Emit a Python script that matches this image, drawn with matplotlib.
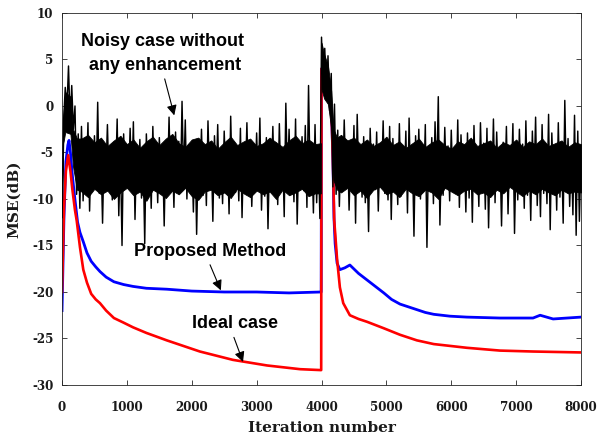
import numpy as np
import matplotlib
matplotlib.use("Agg")
import matplotlib.pyplot as plt

plt.rcParams['axes.unicode_minus'] = False

# ---------------- data ----------------
step = 25  # iteration spacing of the sampled noisy curve

noisy_seg1 = [
    -12.0, -1.5, 2.0, -0.5, 4.3, -1.8, 2.2, -2.5, 0.0, -9.5, -3.0, -11.0,
    -2.2, -10.2, -5.0, -8.0, -1.8, -11.3, -4.6, -8.6,
    -3.2, -9.0, 0.4, -9.4, -5.0, -12.6, -4.4, -7.8,
    -2.0, -8.6, -4.8, -10.1, -3.9, -8.2, -1.4, -11.8,
    -4.9, -15.0, -3.0, -8.3, -5.0, -8.4, -2.4, -9.0,
    -1.7, -12.2, -4.7, -8.5, -3.6, -9.9, -5.1, -14.8,
    -3.0, -8.0, -4.9, -11.0, -2.2, -8.7, -4.6, -10.4,
    -3.4, -8.2, -5.0, -12.9, -4.0, -8.5, -1.2, -9.0,
    -4.8, -10.9, -2.8, -8.3, -3.8, -9.3, 0.5, -8.0,
    -1.5, -10.0, -4.2, -9.0, -4.8, -11.4, -3.7, -13.8,
    -5.0, -8.4, -2.5, -9.6, -4.5, -10.7, -1.6, -8.1,
    -4.7, -12.4, -3.2, -8.5, -2.0, -9.9, -5.0, -10.5,
    -2.7, -8.2, -4.6, -11.6, -1.1, -8.6, -3.9, -9.3,
    -4.9, -10.2, -2.4, -12.0, -4.5, -8.3, -1.8, -9.0,
    -4.1, -10.8, -5.0, -8.4, -2.9, -8.9, -1.3, -11.2,
    -4.8, -9.7, -3.4, -13.2, -4.9, -8.2, -2.2, -9.4,
    -4.0, -10.6, -1.9, -8.5, -4.7, -11.9, 0.3, -8.3,
    -2.5, -9.2, -4.8, -10.3, -1.4, -12.7, -4.6, -8.6,
    -3.3, -9.1, -2.1, -10.9, 2.2, -8.4, -4.6, -11.5,
    -2.0, -10.4, -4.5, -12.1,
]

noisy_seg2 = [
    7.4, 1.8, 6.2, 0.9, 5.4, -0.5, 3.5, -8.7,
    0.2, -9.5, -2.6, -10.8, -4.4, -9.1, -1.5, -8.2,
    -3.9, -11.2, -4.8, -8.7, -2.1, -12.6, -0.9, -8.4,
    -4.6, -9.8, -3.3, -10.4, -5.0, -13.5, -2.4, -8.0,
    -4.1, -9.0, -2.8, -11.3, -4.9, -8.5, -1.6, -9.4,
    -4.7, -10.1, -2.2, -12.2, -3.5, -8.3, -5.0, -10.6,
    -1.9, -9.7, -4.6, -8.6, -2.7, -11.5, -1.3, -9.2,
    -4.8, -14.0, -3.2, -8.4, -2.5, -10.0, -4.9, -9.1,
    -2.0, -15.2, -4.6, -8.8, -3.4, -10.5, -1.7, -8.2,
    1.0, -12.8, -4.7, -9.6, -2.3, -8.5, -4.3, -10.2,
    -2.6, -8.6, -5.0, -9.3, -1.5, -10.9, -3.1, -8.3,
    -4.8, -11.4, -2.9, -9.9, -3.8, -12.5, -2.1, -8.7,
    -4.9, -10.8, -1.8, -8.4, -4.0, -11.1, -2.4, -13.1,
    -4.6, -9.2, -1.4, -10.4, -2.8, -8.2, -4.9, -12.9,
    -3.9, -9.0, -2.2, -11.6, -4.7, -8.5, -1.9, -13.7,
    -4.8, -10.1, -2.5, -8.3, -4.1, -11.0, -1.6, -9.6,
    -4.9, -12.3, -2.7, -8.6, -1.2, -10.7, -4.6, -11.9,
    -2.0, -9.4, -4.8, -10.5, -0.9, -13.3, -2.9, -8.4,
    -4.5, -11.2, -1.8, -9.8, -4.7, -12.6, 0.6, -8.9,
    -3.5, -10.8, -4.9, -11.7, -1.0, -13.9, -2.7, -12.4,
    -5.0,
]

# solid core of the noisy band (upper / lower edge), before and after the jump
core1_iter = [0, 20, 50, 130, 170, 230] + list(range(300, 4000, 100)) + [3990]
core1_upper = [-9.0, -1.0, 1.5, 1.0, -2.5, -3.5,
               -3.5, -3.1, -3.9, -3.4, -4.3, -3.7, -3.2, -4.1, -3.6, -4.5,
               -3.8, -3.3, -4.2, -3.5, -3.0, -4.0, -4.4, -3.6, -3.4, -4.1,
               -3.7, -4.6, -3.9, -3.3, -4.2, -3.8, -3.5, -4.3, -4.0, -3.4,
               -3.9, -4.4, -3.7, -3.2, -4.0, -3.6, -4.1,
               -4.0]
core1_lower = [-11.0, -4.0, -2.8, -3.0, -6.5, -9.0,
               -9.2, -9.8, -8.9, -9.5, -9.1, -10.0, -9.3, -8.8, -9.6, -9.2,
               -10.2, -9.0, -9.4, -9.9, -9.1, -9.5, -8.8, -9.7, -10.1, -9.2,
               -9.0, -9.6, -9.3, -9.9, -8.9, -9.4, -9.8, -9.1, -9.5, -9.2,
               -10.0, -9.0, -9.6, -9.3, -8.9, -9.7, -9.4,
               -9.4]

core2_iter = [4000, 4040, 4100, 4150, 4185, 4240] + list(range(4300, 8001, 100))
core2_upper = [6.8, 5.6, 4.3, 1.6, -2.5, -3.4,
               -3.1, -3.7, -3.4, -4.1, -3.6, -4.3, -3.9, -3.3, -4.2, -3.8,
               -4.5, -4.0, -3.5, -4.4, -3.9, -3.6, -4.2, -4.6, -3.8, -4.1,
               -3.4, -4.3, -4.0, -3.7, -4.5, -3.9, -4.2, -3.6, -4.4, -3.8,
               -4.1, -3.5, -4.3, -4.0, -3.7, -4.4, -3.9, -4.1]
core2_lower = [1.8, 0.8, 0.2, -2.5, -8.0, -9.0,
               -9.3, -8.8, -9.6, -9.1, -9.9, -9.0, -8.7, -9.5, -9.2, -9.8,
               -8.9, -9.4, -9.7, -9.0, -9.3, -10.0, -8.8, -9.2, -9.6, -9.1,
               -8.9, -9.5, -9.3, -9.8, -9.0, -9.4, -8.7, -9.2, -9.7, -9.1,
               -9.5, -8.9, -9.3, -9.6, -9.0, -9.4, -9.2, -9.3]

proposed_iter = [0, 30, 60, 90, 108, 130, 160, 200, 240, 277, 328, 385, 450,
                 520, 585, 680, 800, 950, 1095, 1300, 1615, 2000, 2500, 3000,
                 3500, 3995,
                 4000, 4060, 4120, 4155, 4175, 4192, 4210, 4240, 4283, 4360,
                 4437, 4570, 4700, 4830, 4960, 5080, 5210, 5340, 5470, 5600,
                 5730, 5980, 6240, 6750, 7260, 7370, 7570, 8000]
proposed_mse = [-22.0, -12.0, -6.0, -4.2, -3.7, -5.0, -7.5, -10.1, -12.5, -13.6,
                -14.6, -15.8, -16.7, -17.3, -17.8, -18.4, -18.9, -19.2, -19.4,
                -19.6, -19.7, -19.9, -20.0, -20.0, -20.1, -20.0,
                4.0, 3.0, 1.5, -1.0, -5.6, -12.0, -14.8, -16.9, -17.6, -17.4,
                -17.1, -18.0, -18.7, -19.4, -20.1, -20.8, -21.3, -21.6, -21.9,
                -22.2, -22.4, -22.6, -22.7, -22.8, -22.8, -22.5, -22.9, -22.7]

ideal_iter = [0, 30, 60, 95, 130, 160, 200, 226, 277, 328, 385, 450, 520, 585,
              680, 800, 950, 1095, 1300, 1615, 2125, 2635, 3160, 3670, 3995,
              4000, 4060, 4120, 4155, 4175, 4196, 4240, 4283, 4335, 4437, 4570,
              4700, 4960, 5210, 5470, 5730, 6240, 6750, 7260, 8000]
ideal_mse = [-20.0, -11.0, -7.0, -5.3, -7.0, -9.0, -11.2, -12.3, -15.2, -17.6,
             -19.0, -20.2, -20.8, -21.2, -22.0, -22.8, -23.3, -23.8, -24.4,
             -25.2, -26.4, -27.3, -27.9, -28.3, -28.4,
             4.0, 3.0, 1.5, -1.0, -5.6, -12.3, -16.5, -19.5, -21.2, -22.5,
             -22.9, -23.2, -23.9, -24.6, -25.2, -25.6, -26.0, -26.3, -26.4, -26.5]

x_ticks = [0, 1000, 2000, 3000, 4000, 5000, 6000, 7000, 8000]
y_ticks = [-30, -25, -20, -15, -10, -5, 0, 5, 10]

# ---------------- plot ----------------
fig = plt.figure(figsize=(5.98, 4.37), dpi=100)
ax = fig.add_axes([0.1037, 0.119, 0.8679, 0.8513])

noisy = noisy_seg1 + noisy_seg2
noisy_iter = np.arange(len(noisy)) * step

ax.plot(proposed_iter, proposed_mse, color='#0000ff', lw=2.0, zorder=2)
ax.plot(ideal_iter, ideal_mse, color='#ff0000', lw=1.9, zorder=2)
ax.fill_between(core1_iter, core1_lower, core1_upper, color='black', lw=0.6,
                edgecolor='black', zorder=3)
ax.fill_between(core2_iter, core2_lower, core2_upper, color='black', lw=0.6,
                edgecolor='black', zorder=3)
ax.plot(noisy_iter, noisy, color='black', lw=1.05, zorder=3)

ax.set_xlim(0, 8000)
ax.set_ylim(-30, 10)
ax.set_xticks(x_ticks)
ax.set_yticks(y_ticks)

serif = ['DejaVu Serif']
tick_font = dict(family=serif, weight='bold', size=8.6)
ax.set_xticklabels([str(v) for v in x_ticks], fontdict=tick_font)
ax.set_yticklabels([str(v) for v in y_ticks], fontdict=tick_font)
ax.tick_params(axis='both', direction='in', length=3.6, width=0.6, top=True,
               right=True, colors='#262626', labelcolor='#1a1a1a')
ax.tick_params(axis='x', pad=11.2)
ax.tick_params(axis='y', pad=6.3)
for s in ax.spines.values():
    s.set_linewidth(0.6)
    s.set_color('#262626')

label_font = dict(family=serif, weight='bold', size=11.0, color='#1a1a1a')
ax.set_xlabel('Iteration number', fontdict=label_font, labelpad=5.5)
ax.set_ylabel('MSE(dB)', fontdict=label_font, va='center')
ax.yaxis.set_label_coords(-0.0915, 0.5)

ann_font = dict(family='Liberation Sans', weight='bold', size=13)
arrow = dict(arrowstyle='-|>', color='black', lw=0.8, mutation_scale=15)

ax.text(1548, 6.9, 'Noisy case without', ha='center', va='center', zorder=5, **ann_font)
ax.text(1585, 4.4, 'any enhancement', ha='center', va='center', zorder=5, **ann_font)
ax.annotate('', xy=(1741, -1.3), xytext=(1572, 3.2), arrowprops=arrow, zorder=5)

ax.text(2280, -15.6, 'Proposed Method', ha='center', va='center', zorder=5, **ann_font)
ax.annotate('', xy=(2465, -20.1), xytext=(2265, -16.8), arrowprops=arrow, zorder=5)

ax.text(2673, -23.4, 'Ideal case', ha='center', va='center', zorder=5, **ann_font)
ax.annotate('', xy=(2805, -27.8), xytext=(2635, -24.6), arrowprops=arrow, zorder=5)

fig.savefig('out.png', dpi=100)
